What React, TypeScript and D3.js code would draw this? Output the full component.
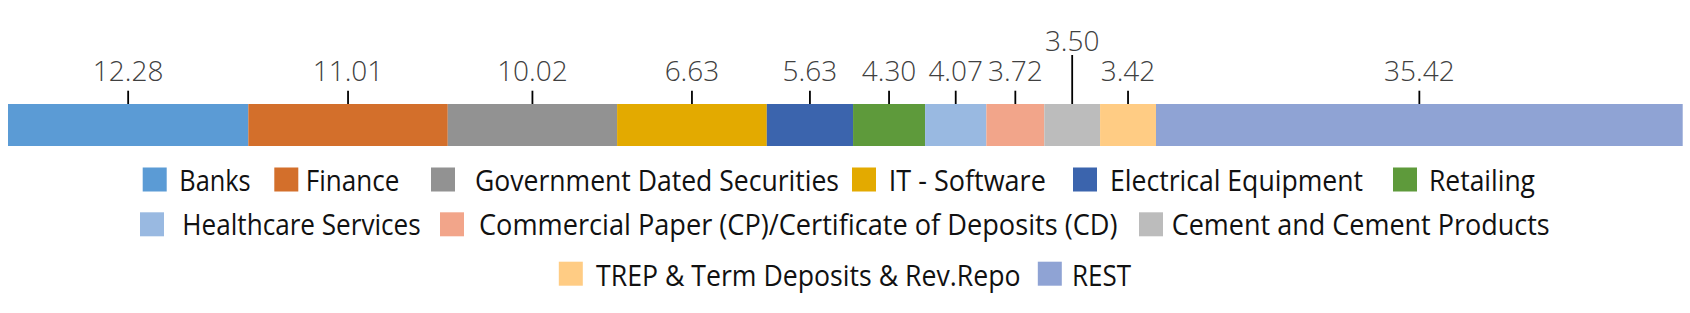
import React from "react";
import * as d3 from "d3";

// Categories (legend order = stack order)
const categories = [
  "Banks",
  "Finance",
  "Government Dated Securities",
  "IT - Software",
  "Electrical Equipment",
  "Retailing",
  "Healthcare Services",
  "Commercial Paper (CP)/Certificate of Deposits (CD)",
  "Cement and Cement Products",
  "TREP & Term Deposits & Rev.Repo",
  "REST",
];

// Printed values (tick labels)
const labelValues = [12.28, 11.01, 10.02, 6.63, 5.63, 4.3, 4.07, 3.72, 3.5, 3.42, 35.42];

// Segment shares as drawn in the bar (%)
const barShares = [14.35, 11.91, 10.11, 8.94, 5.15, 4.3, 3.66, 3.46, 3.33, 3.34, 31.45];

const colors = [
  "#5B9BD5",
  "#D36F2B",
  "#929292",
  "#E3AA00",
  "#3B64AD",
  "#5E9A3B",
  "#99B9E1",
  "#F2A58A",
  "#BCBCBC",
  "#FFCC84",
  "#8FA3D4",
];

// label level: 0 = normal, 1 = raised with long leader
const labelLevel = [0, 0, 0, 0, 0, 0, 0, 0, 1, 0, 0];

// ---- layout (styling constants, not data) ----
const W = 1690;
const H = 313;
const barX0 = 8;
const barX1 = 1682.7;
const barY = 104;
const barH = 42;
const levelBaseline = [81, 51];
const levelTickTop = [90.7, 55];

const legendRow = [0, 0, 0, 0, 0, 0, 1, 1, 1, 2, 2];
const legendSwatchX = [142.7, 274.3, 431, 852, 1073, 1393, 140, 440, 1139, 558.8, 1037.8];
const legendTextX = [179.3, 305.7, 475, 888.8, 1110, 1429, 182.3, 479, 1171.7, 596, 1072];
const legendTextW = [71.4, 93.6, 364, 157, 253, 106, 238.4, 638.5, 378, 424.5, 59];
const rowSwatchY = [167.5, 212.3, 261.7];
const rowBaseline = [190.7, 235, 285.5];
const swatch = 24;

const FONT = "'Open Sans', 'Noto Sans', 'DejaVu Sans', sans-serif";

export default function App() {
  const total = d3.sum(barShares);
  const x = d3.scaleLinear().domain([0, total]).range([barX0, barX1]);
  const ends = Array.from(d3.cumsum(barShares));
  const starts = ends.map((e, i) => e - barShares[i]);
  const fmt = d3.format(".2f");

  return (
    <svg
      width={W}
      height={H}
      style={{ position: "absolute", left: 0, top: 0, background: "#fff" }}
    >
      <rect x={0} y={0} width={W} height={H} fill="#fff" />
      <g>
        {categories.map((c, i) => (
          <rect
            key={c}
            x={x(starts[i])}
            y={barY}
            width={x(ends[i]) - x(starts[i])}
            height={barH}
            fill={colors[i]}
          />
        ))}
      </g>
      <g>
        {categories.map((c, i) => {
          const cx = (x(starts[i]) + x(ends[i])) / 2;
          const lv = labelLevel[i];
          return (
            <g key={c}>
              <line
                x1={cx}
                x2={cx}
                y1={levelTickTop[lv]}
                y2={barY}
                stroke="#000"
                strokeWidth={1.8}
              />
              <text
                x={cx}
                y={levelBaseline[lv]}
                textAnchor="middle"
                fontFamily={FONT}
                fontWeight={300}
                fontSize={28}
                fill="#404040"
              >
                {fmt(labelValues[i])}
              </text>
            </g>
          );
        })}
      </g>
      <g>
        {categories.map((c, i) => {
          const r = legendRow[i];
          return (
            <g key={c}>
              <rect
                x={legendSwatchX[i]}
                y={rowSwatchY[r]}
                width={swatch}
                height={swatch}
                fill={colors[i]}
              />
              <text
                x={legendTextX[i]}
                y={rowBaseline[r]}
                fontFamily={FONT}
                fontSize={29}
                fill="#111"
                textLength={legendTextW[i]}
                lengthAdjust="spacingAndGlyphs"
              >
                {c}
              </text>
            </g>
          );
        })}
      </g>
    </svg>
  );
}
